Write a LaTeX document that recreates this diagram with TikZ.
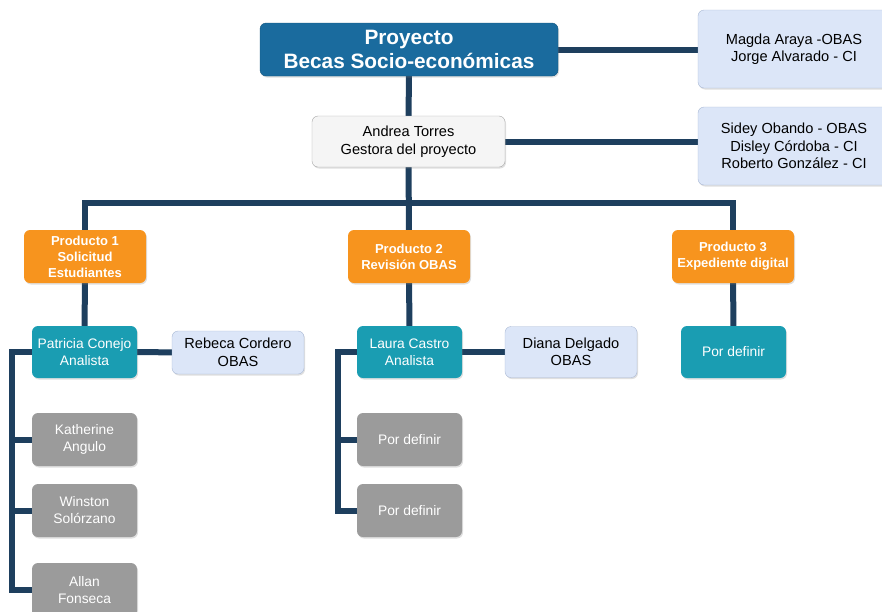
\documentclass[tikz,border=0pt]{standalone}
\usepackage{fontspec}
\setmainfont{Liberation Sans}
\usetikzlibrary{backgrounds,shadows}
\definecolor{navy}{HTML}{1E3F5E}
\definecolor{titblue}{HTML}{1A6B9E}
\definecolor{prodor}{HTML}{F7941E}
\definecolor{teal}{HTML}{1A9DB2}
\definecolor{ltblue}{HTML}{DCE6F8}
\definecolor{ltline}{HTML}{A9B8D4}
\definecolor{grbox}{HTML}{9B9B9B}
\begin{document}
\begin{tikzpicture}[x=1pt,y=-1pt,
  box/.style={rounded corners=6pt,align=center,inner sep=2pt,
    drop shadow={opacity=0.25,shadow xshift=1pt,shadow yshift=-1.5pt}},
  titbox/.style={box,fill=titblue,draw=titblue!80!black,text=white,
    font=\fontsize{20.8}{24}\selectfont\bfseries},
  prod/.style={box,fill=prodor,text=white,minimum width=122pt,minimum height=53pt,
    font=\fontsize{13}{16}\selectfont\bfseries},
  ana/.style={box,fill=teal,text=white,minimum width=105pt,minimum height=52pt,
    font=\fontsize{13.8}{17}\selectfont},
  help/.style={box,fill=grbox,text=white,minimum width=105pt,minimum height=53pt,
    font=\fontsize{13.8}{17}\selectfont},
  side/.style={box,fill=ltblue,draw=ltline,minimum width=132pt,
    font=\fontsize{14.6}{17.5}\selectfont},
  conn/.style={navy,line width=6pt,line join=miter}]
\useasboundingbox (0,0) rectangle (882,611);
% top
\node[titbox,minimum width=298pt,minimum height=53pt] (tt) at (409,49.5) {Proyecto\\Becas Socio-económicas};
\node[side,minimum width=192pt,minimum height=78pt] (r1) at (794,49) {Magda Araya -OBAS\\Jorge Alvarado - CI};
\node[box,fill=gray!8,draw=gray!70,minimum width=193pt,minimum height=51pt,
  font=\fontsize{14.6}{17.5}\selectfont] (gs) at (408.5,141.5) {Andrea Torres\\Gestora del proyecto};
\node[side,minimum width=192pt,minimum height=78pt] (r2) at (794,146) {Sidey Obando - OBAS\\Disley Córdoba - CI\\Roberto González - CI};
% products
\node[prod] (p1) at (85,256.5) {Producto 1\\Solicitud\\Estudiantes};
\node[prod] (p2) at (409,256.5) {Producto 2\\Revisión OBAS};
\node[prod] (p3) at (733,256.5) {Producto 3\\Expediente digital};
% analysts
\node[ana] (a1) at (84.5,352) {Patricia Conejo\\Analista};
\node[side,minimum height=43pt] (o1) at (238,352.5) {Rebeca Cordero\\OBAS};
\node[ana] (a2) at (409.5,352) {Laura Castro\\Analista};
\node[side,minimum height=51pt] (o2) at (571,352) {Diana Delgado\\OBAS};
\node[ana] (a3) at (733.5,352) {Por definir};
% helpers
\node[help] (k1) at (84.5,439.5) {Katherine\\Angulo};
\node[help] (k2) at (84.5,510.5) {Winston\\Solórzano};
\node[help,minimum height=54pt] (k3) at (84.5,590) {Allan\\Fonseca};
\node[help] (d1) at (409.5,439.5) {Por definir};
\node[help] (d2) at (409.5,510.5) {Por definir};
\coordinate (bar) at (408,203);
\coordinate (lb1) at (12,352);
\coordinate (lb2) at (338,352);
% connectors
\begin{pgfonlayer}{background}
\draw[conn] (tt.east) -- (tt.east -| r1.west);
\draw[conn] (tt) -- (gs);
\draw[conn] (gs.east) -- (gs.east -| r2.west);
\draw[conn] (gs) -- (p2);
\draw[conn] (p1.north) |- (bar) -| (p3.north);
\draw[conn] (p1) -- (a1);
\draw[conn] (p2) -- (a2);
\draw[conn] (p3) -- (a3);
\draw[conn] (a1) -- (o1);
\draw[conn] (a2) -- (o2);
\draw[conn] (a1.west) -- (lb1) |- (k3.west);
\draw[conn] (lb1) |- (k1.west);
\draw[conn] (lb1) |- (k2.west);
\draw[conn] (a2.west) -- (lb2) |- (d2.west);
\draw[conn] (lb2) |- (d1.west);
\end{pgfonlayer}
\end{tikzpicture}
\end{document}
